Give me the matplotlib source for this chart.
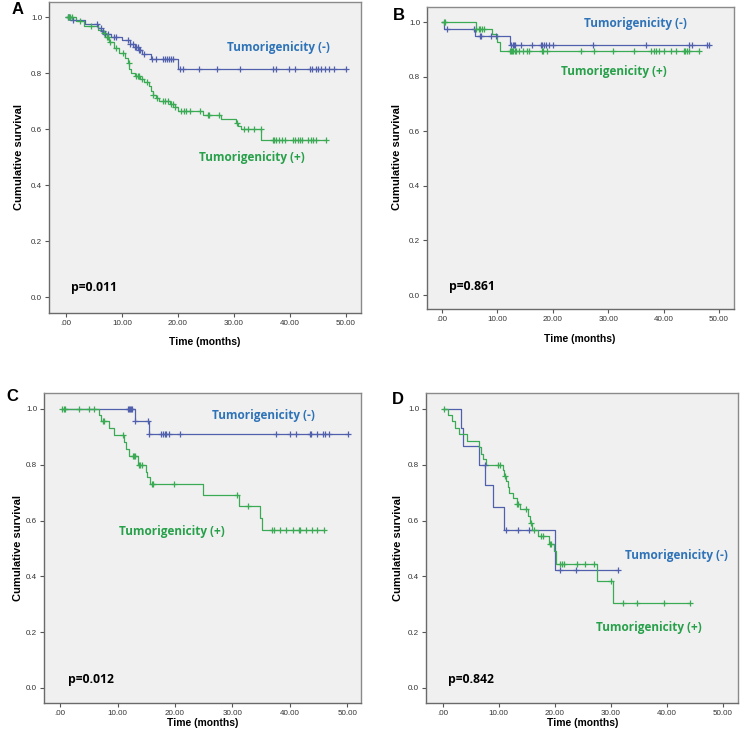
import numpy as np
import matplotlib
matplotlib.use("Agg")
import matplotlib.pyplot as plt

# ---------------- data ----------------
# Panel A
A_neg_start, A_neg_end = 0.3, 50.1
A_neg_t = [0.7, 3.4, 5.8, 6.3, 7.0, 8.0, 10.0, 11.5, 12.3, 12.9, 13.5, 15.1, 20.0]
A_neg_s = [0.989, 0.975, 0.962, 0.950, 0.938, 0.928, 0.918, 0.905, 0.893, 0.882, 0.870, 0.852, 0.815]
A_neg_c = [0.3, 0.5, 1.2, 5.5, 6.2, 6.6, 7.0, 7.5, 8.5, 9.0, 11.0, 11.5, 12.0, 12.3, 12.5, 12.8,
           13.0, 13.3, 14.0, 15.3, 16.1, 17.4, 17.7, 18.0, 18.4, 18.7, 19.2, 20.4, 20.9, 23.8, 27.05,
           31.1, 36.9, 37.5, 39.8, 40.9, 43.6, 44.0, 44.65, 45.1, 45.5, 46.25, 47.0, 47.9, 50.1]
A_pos_start, A_pos_end = 0.3, 46.4
A_pos_t = [1.8, 3.3, 5.8, 6.4, 7.0, 7.6, 8.6, 9.5, 10.5, 11.0, 11.3, 11.6, 12.3, 13.2, 14.0, 14.8,
           15.2, 15.5, 16.0, 16.6, 18.5, 19.5, 20.0, 24.5, 27.6, 30.3, 30.8, 31.2, 34.9]
A_pos_s = [0.985, 0.97, 0.955, 0.945, 0.93, 0.91, 0.89, 0.873, 0.855, 0.835, 0.815, 0.80, 0.79, 0.78,
           0.767, 0.754, 0.735, 0.722, 0.71, 0.70, 0.69, 0.68, 0.664, 0.65, 0.635, 0.622, 0.61, 0.60, 0.561]
A_pos_c = [0.3, 0.5, 0.8, 1.0, 2.5, 4.5, 6.7, 7.3, 7.5, 7.8, 9.0, 10.2, 11.2, 12.5, 12.8, 13.0, 13.5,
           14.5, 15.6, 16.2, 17.3, 17.6, 18.3, 18.8, 19.2, 19.5, 20.5, 21.0, 21.5, 22.2, 24.0, 25.3,
           25.6, 27.4, 30.6, 31.8, 32.6, 33.5, 34.8, 36.9, 37.2, 37.6, 38.1, 38.5, 39.2, 40.5, 40.9,
           41.4, 41.8, 42.1, 43.3, 43.8, 44.2, 44.65, 46.4]

# Panel B
B_neg_start, B_neg_end = 0.0, 48.2
B_neg_t = [0.3, 6.0, 12.2]
B_neg_s = [0.975, 0.95, 0.915]
B_neg_c = [0.9, 5.7, 6.8, 7.0, 8.8, 9.7, 12.5, 12.8, 13.0, 13.2, 14.2, 16.3, 17.8, 18.1, 18.4, 18.7,
           19.3, 20.1, 27.2, 36.9, 44.6, 45.2, 47.9, 48.2]
B_pos_start, B_pos_end = 0.0, 46.4
B_pos_t = [6.1, 9.1, 10.0, 10.5]
B_pos_s = [0.976, 0.955, 0.925, 0.894]
B_pos_c = [0.3, 0.5, 6.1, 6.6, 6.9, 7.2, 7.6, 12.2, 12.5, 12.7, 12.9, 13.1, 13.4, 13.9, 14.7, 15.4,
           15.7, 18.0, 18.2, 19.0, 25.0, 27.5, 30.9, 34.6, 37.8, 38.2, 38.6, 39.1, 40.1, 41.3, 42.3,
           43.6, 43.9, 44.2, 44.5, 46.4]

# Panel C
C_neg_start, C_neg_end = 0.3, 50.1
C_neg_t = [13.1, 15.4]
C_neg_s = [0.955, 0.91]
C_neg_c = [11.8, 12.0, 12.2, 12.4, 12.6, 13.1, 15.3, 15.5, 17.6, 18.0, 18.3, 18.5, 19.0, 20.9, 37.6,
           40.0, 41.0, 43.5, 43.7, 44.8, 45.8, 46.1, 46.8, 50.1]
C_pos_start, C_pos_end = 0.3, 45.9
C_pos_t = [6.8, 7.2, 8.6, 9.4, 11.2, 11.5, 12.0, 13.5, 14.9, 15.2, 15.6, 24.8, 31.2, 34.8, 35.2]
C_pos_s = [0.978, 0.955, 0.93, 0.906, 0.88, 0.855, 0.83, 0.80, 0.775, 0.755, 0.731, 0.69, 0.651,
           0.609, 0.565]
C_pos_c = [0.35, 0.6, 0.8, 3.3, 5.0, 5.9, 7.4, 7.6, 11.0, 12.7, 12.8, 13.0, 13.8, 14.0, 14.3, 16.0,
           16.2, 19.9, 30.8, 32.8, 36.9, 37.2, 38.3, 39.3, 40.5, 41.6, 41.7, 42.8, 43.8, 44.8, 45.9]

# Panel D
D_neg_start, D_neg_end = 0.0, 31.3
D_neg_t = [3.3, 3.6, 6.5, 7.6, 8.9, 11.0, 20.0]
D_neg_s = [0.93, 0.866, 0.80, 0.729, 0.65, 0.565, 0.424]
D_neg_c = [7.5, 11.3, 13.5, 15.3, 20.9, 23.7, 31.3]
D_pos_start, D_pos_end = 0.2, 44.2
D_pos_t = [1.0, 1.6, 2.2, 2.9, 4.3, 6.4, 6.9, 7.2, 7.7, 10.8, 11.0, 11.3, 11.6, 11.9, 12.6, 13.2,
           13.8, 15.2, 15.6, 16.0, 17.0, 19.0, 19.9, 20.2, 27.6, 30.4]
D_pos_s = [0.977, 0.955, 0.932, 0.91, 0.886, 0.865, 0.84, 0.82, 0.80, 0.78, 0.76, 0.74, 0.72, 0.70,
           0.68, 0.66, 0.64, 0.615, 0.59, 0.565, 0.544, 0.517, 0.49, 0.445, 0.382, 0.305]
D_pos_c = [0.2, 9.8, 10.2, 11.1, 13.2, 13.5, 14.9, 15.7, 16.2, 17.5, 17.8, 19.1, 19.4, 21.0, 21.3,
           21.7, 24.0, 25.4, 27.0, 30.1, 32.2, 34.7, 39.4, 44.2]

x_ticks = [0, 10, 20, 30, 40, 50]
x_tick_labels = [".00", "10.00", "20.00", "30.00", "40.00", "50.00"]
y_ticks = [0.0, 0.2, 0.4, 0.6, 0.8, 1.0]
y_tick_labels = ["0.0", "0.2", "0.4", "0.6", "0.8", "1.0"]
p_values = ["p=0.011", "p=0.861", "p=0.012", "p=0.842"]
panel_letters = ["A", "B", "C", "D"]
label_neg = "Tumorigenicity (-)"
label_pos = "Tumorigenicity (+)"

# ---------------- style ----------------
W, H = 741, 740
BLUE_LINE = "#5060ad"
GREEN_LINE = "#3aaa55"
BLUE_TXT = "#2e73b8"
GREEN_TXT = "#27a04a"
BG = "#f0f0f0"
SPINE = "#8a8a8a"
LABEL_FONT = ["Open Sans", "DejaVu Sans"]
AX_FONT = ["Liberation Sans", "DejaVu Sans"]

fig = plt.figure(figsize=(W / 100, H / 100), dpi=100)
fig.patch.set_facecolor("white")


def px_rect(l, t, r, b):
    return [l / W, 1 - b / H, (r - l) / W, (b - t) / H]


def step_eval(t0, times, surv, x):
    s = 1.0
    for tt, ss in zip(times, surv):
        if x >= tt:
            s = ss
    return s


def draw_curve(ax, start, end, times, surv, cens, color):
    xs = [start] + list(times) + [end]
    ys = [1.0] + list(surv) + [surv[-1]]
    ax.step(xs, ys, where="post", color=color, lw=0.9, zorder=3)
    cy = [step_eval(start, times, surv, c) for c in cens]
    ax.plot(cens, cy, ls="none", marker="+", ms=5, mew=0.9, color=color, zorder=4)


panels = [
    dict(rect=(49, 2, 361, 313), xl=(-3.04, 52.7), yl=(-0.057, 1.054),
         neg=(A_neg_start, A_neg_end, A_neg_t, A_neg_s, A_neg_c),
         pos=(A_pos_start, A_pos_end, A_pos_t, A_pos_s, A_pos_c),
         letter=(12, 10), negl=(278, 48), posl=(252, 157), p=(71, 288),
         ylab=(19, 157), xlab=(205, 342)),
    dict(rect=(427, 7, 734, 309), xl=(-2.7, 52.7), yl=(-0.051, 1.055),
         neg=(B_neg_start, B_neg_end, B_neg_t, B_neg_s, B_neg_c),
         pos=(B_pos_start, B_pos_end, B_pos_t, B_pos_s, B_pos_c),
         letter=(393, 15), negl=(635, 24), posl=(614, 72), p=(449, 286),
         ylab=(397, 157), xlab=(580, 339)),
    dict(rect=(44, 393, 361, 703), xl=(-2.8, 52.4), yl=(-0.054, 1.057),
         neg=(C_neg_start, C_neg_end, C_neg_t, C_neg_s, C_neg_c),
         pos=(C_pos_start, C_pos_end, C_pos_t, C_pos_s, C_pos_c),
         letter=(6, 397), negl=(263, 416), posl=(172, 531), p=(68, 679),
         ylab=(18, 548), xlab=(203, 723)),
    dict(rect=(426, 393, 738, 703), xl=(-3.0, 52.7), yl=(-0.054, 1.057),
         neg=(D_neg_start, D_neg_end, D_neg_t, D_neg_s, D_neg_c),
         pos=(D_pos_start, D_pos_end, D_pos_t, D_pos_s, D_pos_c),
         letter=(392, 400), negl=(676, 556), posl=(649, 628), p=(448, 679),
         ylab=(398, 548), xlab=(583, 723)),
]

for i, P in enumerate(panels):
    ax = fig.add_axes(px_rect(*P["rect"]))
    ax.set_facecolor(BG)
    draw_curve(ax, *P["neg"], BLUE_LINE)
    draw_curve(ax, *P["pos"], GREEN_LINE)
    ax.set_xlim(*P["xl"])
    ax.set_ylim(*P["yl"])
    ax.set_xticks(x_ticks)
    ax.set_xticklabels(x_tick_labels, fontfamily=AX_FONT, fontsize=5.8, color="#333333")
    ax.set_yticks(y_ticks)
    ax.set_yticklabels(y_tick_labels, fontfamily=AX_FONT, fontsize=5.8, color="#333333")
    ax.tick_params(direction="out", length=3, width=0.8, color="#555555", pad=2)
    for s in ax.spines.values():
        s.set_color(SPINE)
        s.set_linewidth(1.0)
    ax.spines["left"].set_color("#6a6a6a")
    ax.spines["bottom"].set_color("#6a6a6a")

    fig.text(P["letter"][0] / W, 1 - P["letter"][1] / H, panel_letters[i],
             fontfamily=AX_FONT, fontweight="bold", fontsize=12, ha="left", va="center")
    fig.text(P["negl"][0] / W, 1 - P["negl"][1] / H, label_neg, color=BLUE_TXT,
             fontfamily=LABEL_FONT, fontweight="bold", fontsize=8.5, ha="center", va="center")
    fig.text(P["posl"][0] / W, 1 - P["posl"][1] / H, label_pos, color=GREEN_TXT,
             fontfamily=LABEL_FONT, fontweight="bold", fontsize=8.5, ha="center", va="center")
    fig.text(P["p"][0] / W, 1 - P["p"][1] / H, p_values[i], color="black",
             fontfamily=LABEL_FONT, fontweight="bold", fontsize=8.7, ha="left", va="center")
    fig.text(P["ylab"][0] / W, 1 - P["ylab"][1] / H, "Cumulative survival", rotation=90,
             fontfamily=AX_FONT, fontweight="bold", fontsize=8, ha="center", va="center")
    fig.text(P["xlab"][0] / W, 1 - P["xlab"][1] / H, "Time (months)",
             fontfamily=AX_FONT, fontweight="bold", fontsize=7.5, ha="center", va="center")

fig.savefig("out.png", dpi=100, facecolor="white")
